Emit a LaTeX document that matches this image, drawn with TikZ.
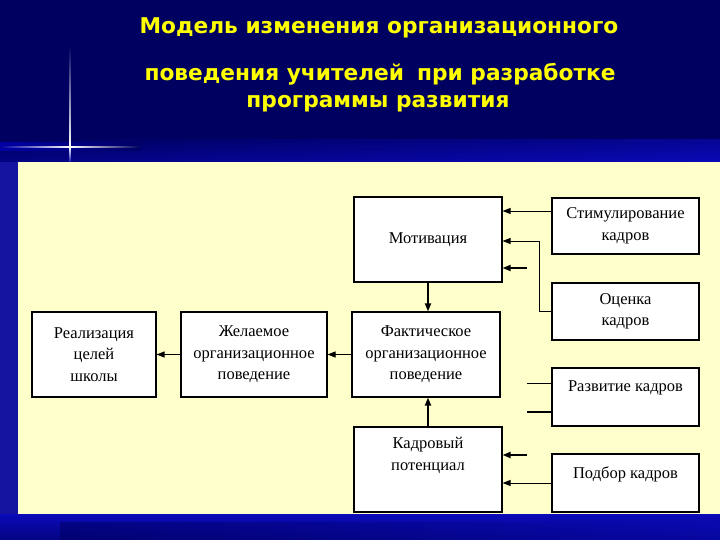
\documentclass[tikz,border=0pt]{standalone}
\usepackage{fontspec}
\setmainfont{Liberation Serif}
\newfontfamily\titlefont{DejaVu Sans}
\usetikzlibrary{arrows.meta,calc}
\definecolor{navy}{RGB}{0,0,96}
\definecolor{bandblue}{RGB}{10,10,185}
\definecolor{stripblue}{RGB}{20,20,160}
\definecolor{panelyellow}{RGB}{255,255,204}
\definecolor{titleyellow}{RGB}{255,255,0}
\begin{document}
\begin{tikzpicture}[x=1pt,y=-1pt,
  box/.style={draw=black,line width=1.1pt,fill=white,align=center,inner sep=0pt,
    font=\fontsize{16.5}{21.5}\selectfont},
  titletext/.style={text=titleyellow,font=\titlefont\bfseries\fontsize{21.7}{24}\selectfont},
  arr/.style={-{Triangle[length=8pt,width=6pt]}},
  thinln/.style={line width=0.9pt},
  thickln/.style={line width=1.8pt}]
\useasboundingbox (0,0) rectangle (720,540);
% background
\fill[navy] (0,0) rectangle (720,540);
\shade[top color=navy,bottom color=bandblue] (0,140) rectangle (720,162);
\shade[left color=navy,right color=navy!0!bandblue,opacity=0.6] (0,140) rectangle (720,162);
\shade[top color=bandblue,bottom color=navy!60!bandblue] (0,514) rectangle (720,540);
\shade[left color=navy,right color=bandblue,opacity=0.5] (60,522) rectangle (720,540);
\fill[stripblue] (0,162) rectangle (18,514);
% cross glow
\shade[left color=blue!60!navy,right color=navy,opacity=0.7] (0,143) rectangle (140,151);
\shade[top color=navy,bottom color=white] (69.2,45) rectangle (70.8,147);
\shade[top color=white,bottom color=blue!50!navy] (69.2,147) rectangle (70.8,163);
\shade[left color=blue!40!navy,right color=white] (0,146.2) rectangle (70,147.8);
\shade[left color=white,right color=navy] (70,146.2) rectangle (140,147.8);
% panel
\fill[panelyellow] (18,162) rectangle (720,514);
% title
\node[titletext] (t1) at (379,28) {Модель изменения организационного};
\node[titletext] (t2) at (380,74) {поведения учителей\hspace{0.6em}при разработке};
\node[titletext] (t3) at (378,104) {программы развития};
% boxes
\node[box,minimum width=148pt,minimum height=85pt] (mot) at (428,239.5) {Мотивация};
\node[box,minimum width=148pt,minimum height=85pt] (fakt) at (426,354.5) {Фактическое\\организационное\\поведение};
\node[box,minimum width=148pt,minimum height=85pt] (kadr) at (428,469.5) {Кадровый\\потенциал\\[10pt]\mbox{}};
\node[box,minimum width=147pt,minimum height=56pt] (stim) at (625.5,226) {Стимулирование\\кадров};
\node[box,minimum width=147pt,minimum height=57pt] (ocen) at (625.5,311.5) {Оценка\\кадров};
\node[box,minimum width=147pt,minimum height=58pt] (razv) at (625.5,397) {Развитие кадров\\\mbox{}};
\node[box,minimum width=147pt,minimum height=58pt] (podb) at (625.5,483) {Подбор кадров\\\mbox{}};
\node[box,minimum width=124pt,minimum height=85pt] (real) at (94,354.5) {Реализация\\целей\\школы};
\node[box,minimum width=146pt,minimum height=85pt] (zhel) at (254,354.5) {Желаемое\\организационное\\поведение};
% free ends
\coordinate (m3) at (527,268);
\coordinate (r1) at (527,383);
\coordinate (r2) at (527,412);
\coordinate (k1) at (527,455);
% connectors
\draw[arr,thinln] ([yshift=15pt]stim.west) -- ([yshift=15pt]stim.west -| mot.east);
\draw[arr,thinln] (ocen.west) -- ++(-12,0) |- ([yshift=-1.5pt]mot.east);
\draw[arr,thickln] (m3) -- (m3 -| mot.east);
\draw[thinln] (razv.west |- r1) -- (r1);
\draw[thickln] (razv.west |- r2) -- (r2);
\draw[arr,thickln] (k1) -- (k1 -| kadr.east);
\draw[arr,thinln] (podb.west) -- (podb.west -| kadr.east);
\draw[arr,thickln] (mot.south) -- (mot.south |- fakt.north);
\draw[arr,thickln] (kadr.north) -- (kadr.north |- fakt.south);
\draw[arr,thinln] (fakt.west) -- (zhel.east);
\draw[arr,thinln] (zhel.west) -- (real.east);
\end{tikzpicture}
\end{document}
